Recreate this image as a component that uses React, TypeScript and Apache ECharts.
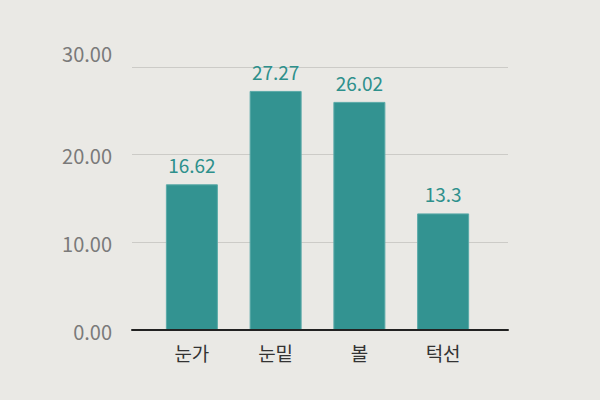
import React, { useEffect, useRef } from "react";
import * as echarts from "echarts";

const categories = ["눈가", "눈밑", "볼", "턱선"];
const values = [16.62, 27.27, 26.02, 13.3];
const yTicks = [0, 10, 20, 30];

export default function App() {
  const ref = useRef<HTMLDivElement>(null);
  useEffect(() => {
    const chart = echarts.init(ref.current!, null, { renderer: "svg" });
    const font = "'Noto Sans CJK KR', 'Noto Sans', sans-serif";
    const yMax = yTicks[yTicks.length - 1];
    chart.setOption({
      animation: false,
      backgroundColor: "#EAE9E5",
      textStyle: { fontFamily: font },
      grid: [
        { left: 132, right: 92, top: 67, bottom: 70 },
        { left: 150, right: 115, top: 67, bottom: 70 },
      ],
      xAxis: [
        {
          gridIndex: 0,
          type: "value",
          min: 0,
          max: 1,
          axisLabel: { show: false },
          axisTick: { show: false },
          splitLine: { show: false },
          axisLine: { show: true, lineStyle: { color: "#222", width: 2 } },
          z: 5,
        },
        {
          gridIndex: 1,
          type: "category",
          data: categories,
          axisLine: { show: false },
          axisTick: { show: false },
          axisLabel: { color: "#333", fontSize: 19, margin: 13, fontFamily: font },
        },
      ],
      yAxis: [
        {
          gridIndex: 0,
          type: "value",
          min: yTicks[0],
          max: yMax,
          interval: 10,
          axisLine: { show: false },
          axisTick: { show: false },
          axisLabel: {
            color: "#7A7A7A",
            fontSize: 20,
            margin: 20,
            fontFamily: font,
            formatter: (v: number) =>
              v === yMax ? `{top|${v.toFixed(2)}}` : `{n|${v.toFixed(2)}}`,
            rich: {
              top: {
                color: "#7A7A7A",
                fontSize: 20,
                fontFamily: font,
                padding: [0, 0, 28, 0],
              },
              n: {
                color: "#7A7A7A",
                fontSize: 20,
                fontFamily: font,
                padding: [2, 0, 0, 0],
              },
            },
          },
          splitLine: { show: true, lineStyle: { color: "#CCCBC7", width: 1 } },
        },
        {
          gridIndex: 1,
          type: "value",
          min: yTicks[0],
          max: yMax,
          interval: 10,
          axisLine: { show: false },
          axisTick: { show: false },
          axisLabel: { show: false },
          splitLine: { show: false },
        },
      ],
      series: [
        {
          type: "bar",
          xAxisIndex: 1,
          yAxisIndex: 1,
          data: values,
          barWidth: 52,
          itemStyle: { color: "#339391", borderColor: "#5AAAA8", borderWidth: 1 },
          label: {
            show: true,
            position: "top",
            distance: 10,
            color: "#2E908C",
            fontSize: 19,
            fontFamily: font,
          },
        },
      ],
    });
    return () => chart.dispose();
  }, []);
  return (
    <div
      ref={ref}
      style={{ position: "fixed", left: 0, top: 0, width: 600, height: 400 }}
    />
  );
}
